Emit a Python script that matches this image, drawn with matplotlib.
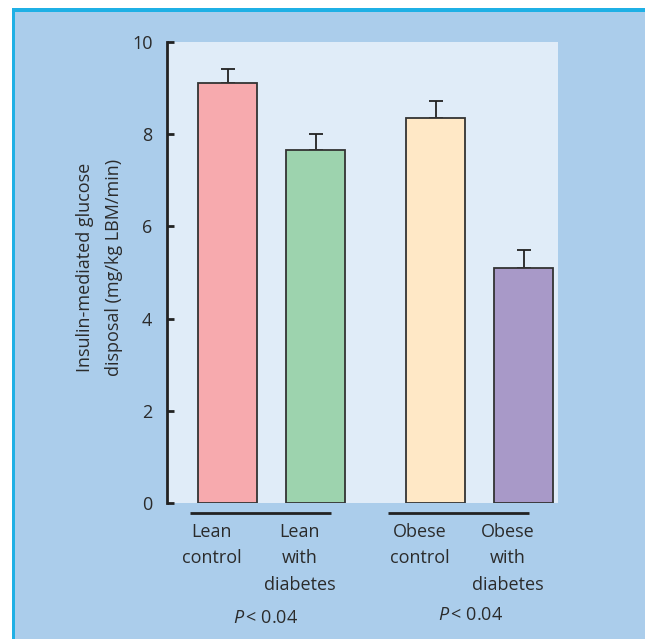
import matplotlib
matplotlib.use("Agg")
import matplotlib.pyplot as plt
from matplotlib import font_manager
from matplotlib.patches import Rectangle
from matplotlib.transforms import blended_transform_factory

# ---- data -------------------------------------------------------------
categories = ["Lean\ncontrol", "Lean\nwith\ndiabetes",
              "Obese\ncontrol", "Obese\nwith\ndiabetes"]
means = [9.1, 7.65, 8.35, 5.1]
errors = [0.32, 0.35, 0.37, 0.38]
bar_colors = ["#f7aaae", "#9dd3ae", "#ffe8c6", "#a899c8"]
group_labels = ["< 0.04", "< 0.04"]
y_ticks = [0, 2, 4, 6, 8, 10]
y_label = "Insulin-mediated glucose\ndisposal (mg/kg LBM/min)"

# ---- fonts ------------------------------------------------------------
installed = {f.name for f in font_manager.fontManager.ttflist}
base = "Liberation Sans Narrow" if "Liberation Sans Narrow" in installed else "Open Sans"
plt.rcParams["font.family"] = [base, "DejaVu Sans"]
plt.rcParams["mathtext.fontset"] = "custom"
plt.rcParams["mathtext.it"] = f"{base}:italic"
plt.rcParams["mathtext.rm"] = base

TEXT = "#2b2b2b"
FS = 13

W, H = 645, 639
fig = plt.figure(figsize=(W / 100, H / 100), dpi=100, facecolor="white")

# outer panel with a cyan rule along top and left
fig.patches.append(Rectangle((11.5 / W, 0), 1, 1 - 8 / H, transform=fig.transFigure,
                             facecolor="#1fb0e5", edgecolor="none", zorder=-2))
fig.patches.append(Rectangle((15 / W, 0), 1, 1 - 11.5 / H, transform=fig.transFigure,
                             facecolor="#abcdeb", edgecolor="none", zorder=-1))

# plotting area
left, right, bottom, top = 167, 558, 503, 42
ax = fig.add_axes([left / W, 1 - bottom / H, (right - left) / W, (bottom - top) / H])
ax.set_zorder(1)
ax.set_facecolor("#e0ecf8")

px = 88.0  # pixels per x unit
positions = [0.0, 1.0, 208 / px, 296 / px]
ax.bar(positions, means, width=59 / px, color=bar_colors, edgecolor="#333333",
       linewidth=1.3, zorder=3)
ax.errorbar(positions, means, yerr=[[0] * 4, errors], fmt="none", ecolor="#222222",
            elinewidth=1.3, capsize=4.8, capthick=1.3, zorder=2)

ax.set_xlim(-60.5 / px, 330.5 / px)
ax.set_ylim(0, 10)
ax.set_yticks(y_ticks)
ax.set_xticks([])
for s in ("top", "right", "bottom"):
    ax.spines[s].set_visible(False)
ax.spines["left"].set_linewidth(2.0)
ax.spines["left"].set_color("#222222")
ax.tick_params(axis="y", direction="in", length=5, width=2.0, color="#222222",
               pad=10.5, labelsize=FS, labelcolor=TEXT)

# group underlines, category labels and P values
trans = blended_transform_factory(ax.transData, ax.transAxes)
ah = bottom - top
y_line = -10 / ah
groups = [(0, 1), (2, 3)]
line_shift = [-37.5, -47.5]   # start of each underline, px from the first bar centre
line_len = 141                # underline length, px
text_shift = [-6, -9]
text_y = [-115, -112]
for (a, b), glabel, ls, ts, ty in zip(groups, group_labels, line_shift, text_shift, text_y):
    x0 = positions[a] + ls / px
    x1 = x0 + line_len / px
    ax.plot([x0, x1], [y_line, y_line], transform=trans, color="#222222",
            linewidth=2.0, clip_on=False, solid_capstyle="butt")
    xc = (positions[a] + positions[b]) / 2 + ts / px
    ax.text(xc, ty / ah, r"$P\,$" + glabel, transform=trans,
            ha="center", va="center", fontsize=FS, color=TEXT)

for x, lab in zip(positions, categories):
    ax.text(x - 16 / px, -20 / ah, lab, transform=trans,
            ha="center", va="top", fontsize=FS, color=TEXT, linespacing=1.6)

fig.text(99.5 / W, 1 - 267 / H, y_label, rotation=90, ha="center", va="center",
         fontsize=FS, color=TEXT, linespacing=1.75)

fig.savefig("out.png", dpi=100, facecolor="white")
